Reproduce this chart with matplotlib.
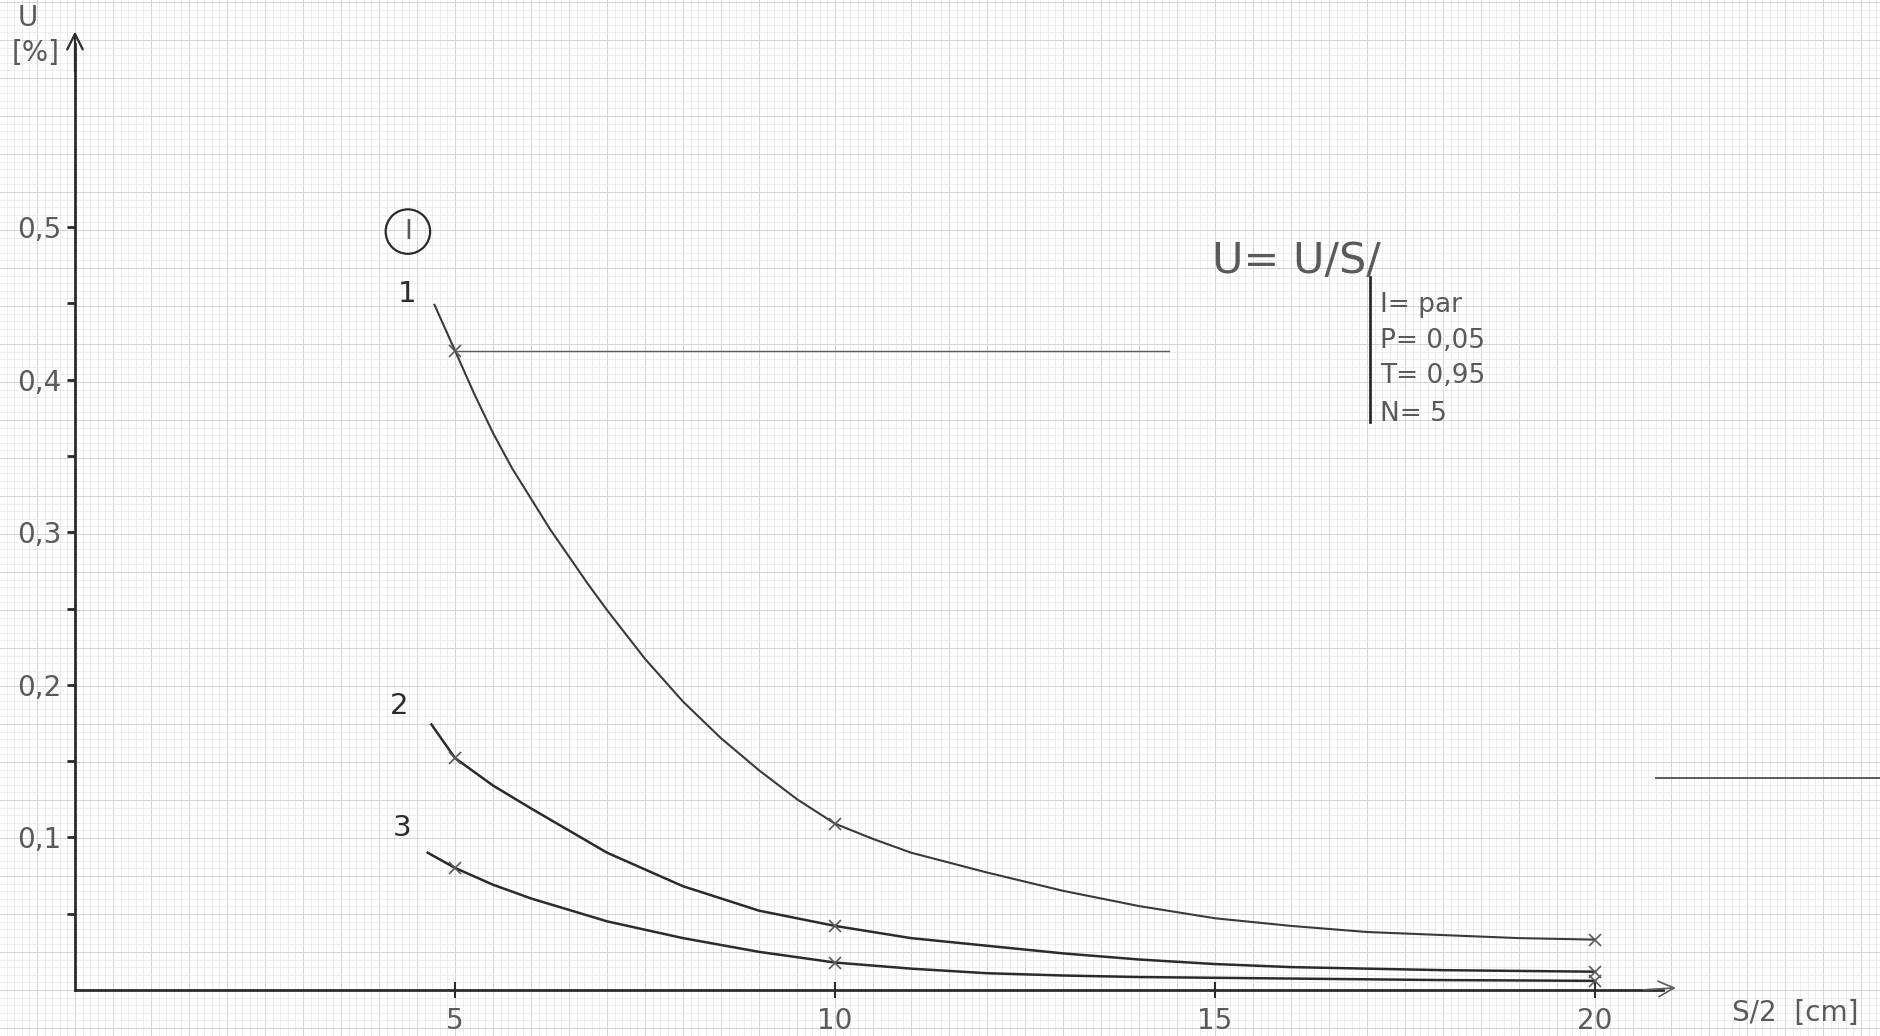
import matplotlib.pyplot as plt
from matplotlib.ticker import FixedLocator, FuncFormatter

# curve 1
x1 = [4.73, 5.0, 5.25, 5.5, 5.75, 6.0, 6.25, 6.5, 6.75, 7.0, 7.5, 8.0, 8.5, 9.0, 9.5, 10.0,
      10.5, 11.0, 12.0, 13.0, 14.0, 15.0, 16.0, 17.0, 18.0, 19.0, 20.0]
y1 = [0.449, 0.419, 0.391, 0.365, 0.342, 0.322, 0.302, 0.284, 0.266, 0.249, 0.217, 0.189,
      0.165, 0.144, 0.125, 0.109, 0.099, 0.090, 0.077, 0.065, 0.055, 0.047, 0.042, 0.038,
      0.036, 0.034, 0.033]

# curve 2
x2 = [4.69, 5.0, 5.5, 6.0, 7.0, 8.0, 9.0, 10.0, 11.0, 12.0, 13.0, 14.0,
      15.0, 16.0, 17.0, 18.0, 19.0, 20.0]
y2 = [0.174, 0.152, 0.134, 0.119, 0.090, 0.068, 0.052, 0.042, 0.034, 0.029, 0.024, 0.020,
      0.017, 0.015, 0.014, 0.013, 0.0125, 0.012]

# curve 3
x3 = [4.64, 5.0, 5.5, 6.0, 7.0, 8.0, 9.0, 10.0, 11.0, 12.0, 13.0, 14.0,
      15.0, 16.0, 17.0, 18.0, 20.0]
y3 = [0.090, 0.080, 0.069, 0.060, 0.045, 0.034, 0.025, 0.018, 0.014, 0.011, 0.0095, 0.0085,
      0.008, 0.0075, 0.007, 0.0065, 0.006]

# measured points (crosses)
x_meas = [5, 10, 20]
meas1 = [0.419, 0.109, 0.033]
meas2 = [0.152, 0.042, 0.012]
meas3 = [0.080, 0.018, 0.006]

curve_labels = ['1', '2', '3']
label_pos = [(4.37, 0.456), (4.26, 0.186), (4.30, 0.106)]

x_ticks = [5, 10, 15, 20]
y_ticks = [0.1, 0.2, 0.3, 0.4, 0.5]
y_minor = [0.05, 0.15, 0.25, 0.35, 0.45]

params = ['I= par', 'P= 0,05', 'T= 0,95', 'N= 5']
param_y = [0.444, 0.421, 0.398, 0.373]

ink = '#2b2b2b'
pencil = '#5a5a5a'

fig = plt.figure(figsize=(18.81, 10.36), dpi=100, facecolor='white')

# millimetre paper in the background
bg = fig.add_axes([0, 0, 1, 1])
mm = 7.6
bg.set_xlim(-75 / mm, (1881 - 75) / mm)
bg.set_ylim(-46 / mm, (1036 - 46) / mm)
bg.xaxis.set_minor_locator(FixedLocator(range(-10, 240)))
bg.yaxis.set_minor_locator(FixedLocator(range(-7, 132)))
bg.xaxis.set_major_locator(FixedLocator(range(-10, 240, 5)))
bg.yaxis.set_major_locator(FixedLocator(range(-5, 132, 5)))
bg.grid(which='minor', color='#e6e6e6', lw=0.5)
bg.grid(which='major', color='#d4d4d4', lw=0.7)
bg.tick_params(which='both', length=0, labelbottom=False, labelleft=False)
for s in bg.spines.values():
    s.set_visible(False)

ax = fig.add_axes([0, 0, 1, 1], facecolor='none')
ax.set_xlim((0 - 75) / 76, (1881 - 75) / 76)
ax.set_ylim((990 - 1036) / 1526, 990 / 1526)

for s in ['top', 'right']:
    ax.spines[s].set_visible(False)
ax.spines['left'].set_position(('data', 0))
ax.spines['bottom'].set_position(('data', 0))
ax.spines['left'].set_bounds(0, 0.62)
ax.spines['bottom'].set_bounds(0, 20.9)
for s in ['left', 'bottom']:
    ax.spines[s].set_color(ink)
    ax.spines[s].set_linewidth(2)

ax.annotate('', xy=(0, 0.630), xytext=(0, 0.60),
            arrowprops=dict(arrowstyle='->', color=ink, lw=1.6, mutation_scale=28))
ax.annotate('', xy=(21.1, 0.0015), xytext=(20.6, 0),
            arrowprops=dict(arrowstyle='->', color=pencil, lw=1.2, mutation_scale=28))

ax.set_xticks(x_ticks)
ax.set_yticks(y_ticks)
ax.set_yticks(y_minor, minor=True)
ax.xaxis.set_major_formatter(FuncFormatter(lambda v, p: f'{v:g}'))
ax.yaxis.set_major_formatter(FuncFormatter(lambda v, p: f'{v:.1f}'.replace('.', ',')))
ax.tick_params(axis='x', direction='inout', length=12, width=1.5, color=ink,
               labelsize=20, labelcolor=pencil, pad=6)
ax.tick_params(axis='y', which='both', direction='out', length=6, width=2, color=ink,
               labelsize=20, labelcolor=pencil, pad=4)

ax.plot(x1, y1, color='#3a3a3a', lw=1.5, solid_joinstyle='round')
ax.plot(x2, y2, color=ink, lw=1.8, solid_joinstyle='round')
ax.plot(x3, y3, color=ink, lw=1.8, solid_joinstyle='round')
for ys in [meas1, meas2, meas3]:
    ax.plot(x_meas, ys, ls='none', marker='x', ms=9, mew=1.2, color=pencil)

for lab, (lx, ly) in zip(curve_labels, label_pos):
    ax.text(lx, ly, lab, fontsize=21, color=ink, ha='center', va='center')

ax.text(4.38, 0.497, 'I', fontsize=19, color=pencil, ha='center', va='center',
        bbox=dict(boxstyle='circle,pad=0.35', fc='none', ec=ink, lw=1.6))

# guide lines
ax.plot([5, 14.4], [0.419, 0.419], color=pencil, lw=1.0)
ax.plot([20.8, 23.8], [0.139, 0.139], color=pencil, lw=1.4)

# parameter box
ax.text(14.96, 0.470, 'U= U/S/', fontsize=31, color=pencil, va='baseline')
ax.plot([17.04, 17.04], [0.372, 0.467], color=ink, lw=2)
for t, py in zip(params, param_y):
    ax.text(17.17, py, t, fontsize=19, color=pencil, va='baseline')

ax.text(-0.62, 0.637, 'U', fontsize=20, color=pencil, ha='center', va='center')
ax.text(-0.52, 0.614, '[%]', fontsize=20, color=pencil, ha='center', va='center')
ax.text(21.8, -0.015, 'S/2  [cm]', fontsize=20, color=pencil, va='center')

fig.savefig('out.png', dpi=100)
